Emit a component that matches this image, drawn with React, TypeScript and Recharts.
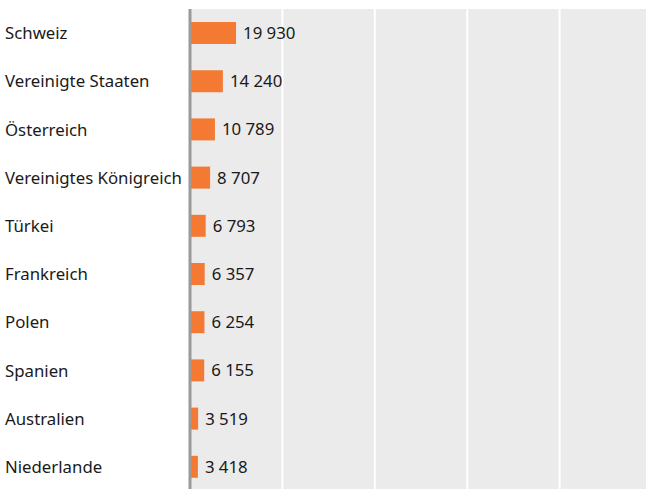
import React from 'react';
import { BarChart, Bar, XAxis, YAxis, CartesianGrid, LabelList, ReferenceLine } from 'recharts';

const countries = [
  'Schweiz',
  'Vereinigte Staaten',
  'Österreich',
  'Vereinigtes Königreich',
  'Türkei',
  'Frankreich',
  'Polen',
  'Spanien',
  'Australien',
  'Niederlande',
];
const persons = [19930, 14240, 10789, 8707, 6793, 6357, 6254, 6155, 3519, 3418];
const gridTicks = [40000, 80000, 120000, 160000];

const data = countries.map((country, i) => ({ country, value: persons[i] }));

const fmt = (v: any) => String(v).replace(/\B(?=(\d{3})+(?!\d))/g, '\u00a0');

const font = '"Noto Sans", sans-serif';

const CountryTick = (props: any) => {
  const { y, payload } = props;
  return (
    <text x={5} y={y} dy={6} textAnchor="start" fill="#1a1a1a" fontSize={16.8} fontFamily={font}>
      {payload.value}
    </text>
  );
};

const App: React.FC = () => {
  return (
    <div style={{ position: 'absolute', left: 0, top: 0, width: 646, height: 489, overflow: 'hidden', background: '#fff' }}>
      <BarChart
        width={652}
        height={491}
        data={data}
        layout="vertical"
        margin={{ top: 9, right: 0, left: 0, bottom: 0 }}
        barCategoryGap={13}
      >
        <CartesianGrid horizontal={false} vertical={false} fill="#ebebeb" />
        <XAxis type="number" domain={[0, 200000]} ticks={gridTicks} hide />
        <YAxis
          type="category"
          dataKey="country"
          width={190}
          axisLine={{ stroke: '#9a9a9a', strokeWidth: 3 }}
          tickLine={false}
          tick={<CountryTick />}
          interval={0}
        />
        {gridTicks.map((t) => (
          <ReferenceLine key={t} x={t} stroke="#ffffff" strokeWidth={2} />
        ))}
        <Bar dataKey="value" fill="#f47a33" barSize={22} isAnimationActive={false}>
          <LabelList
            dataKey="value"
            position="right"
            offset={7}
            formatter={fmt}
            fill="#1a1a1a"
            fontSize={16.8}
            fontFamily={font}
          />
        </Bar>
      </BarChart>
    </div>
  );
};

export default App;
